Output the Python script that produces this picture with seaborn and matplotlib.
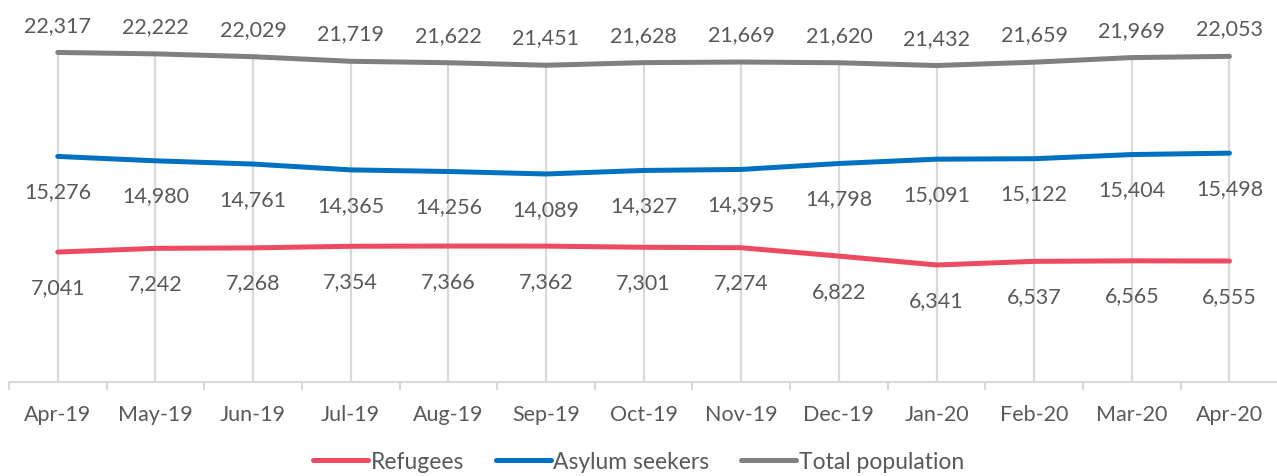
import pandas as pd
import numpy as np
from matplotlib import pyplot as plt
import seaborn as sns

months = ["Apr-19", "May-19", "Jun-19", "Jul-19", "Aug-19", "Sep-19", "Oct-19",
          "Nov-19", "Dec-19", "Jan-20", "Feb-20", "Mar-20", "Apr-20"]
refugees = [7041, 7242, 7268, 7354, 7366, 7362, 7301, 7274, 6822, 6341, 6537, 6565, 6555]
asylum = [15276, 14980, 14761, 14365, 14256, 14089, 14327, 14395, 14798, 15091, 15122, 15404, 15498]
total = [22317, 22222, 22029, 21719, 21622, 21451, 21628, 21669, 21620, 21432, 21659, 21969, 22053]

RED = "#EE4B62"
BLUE = "#0070C0"
GRAY = "#808080"
TXT = "#595959"
GRID = "#D9D9D9"

sns.set_style("white")
plt.rcParams["font.family"] = ["Lato", "DejaVu Sans"]

df = pd.DataFrame({"x": np.arange(len(months)), "refugees": refugees,
                   "asylum": asylum, "total": total})

fig = plt.figure(figsize=(12.77, 4.77), dpi=100)
ax = fig.add_axes([0.007, 0.197, 0.994, 0.774])
ax2 = ax.twinx()

# drop lines from the total down to the axis
ax.vlines(df["x"], 0, df["total"], color=GRID, lw=1.6, zorder=1)

lw = 3.6
sns.lineplot(data=df, x="x", y="total", ax=ax, color=GRAY, lw=lw,
             solid_capstyle="round", zorder=3)
sns.lineplot(data=df, x="x", y="asylum", ax=ax, color=BLUE, lw=lw,
             solid_capstyle="round", zorder=3)
sns.lineplot(data=df, x="x", y="refugees", ax=ax2, color=RED, lw=lw,
             solid_capstyle="round", zorder=3)

ax.set_ylim(0, 25000)
ax2.set_ylim(0, 20000)
ax.set_xlim(-0.5, len(months) - 0.5)

fs = 15.5
for i in range(len(months)):
    ax.annotate(f"{total[i]:,}", (i, total[i]), xytext=(0, 20), textcoords="offset points",
                ha="center", va="center", fontsize=fs, color=TXT)
    ax.annotate(f"{asylum[i]:,}", (i, asylum[i]), xytext=(0, -25), textcoords="offset points",
                ha="center", va="center", fontsize=fs, color=TXT)
    ax2.annotate(f"{refugees[i]:,}", (i, refugees[i]), xytext=(0, -25), textcoords="offset points",
                 ha="center", va="center", fontsize=fs, color=TXT)

for a in (ax, ax2):
    for s in ["top", "right", "left"]:
        a.spines[s].set_visible(False)
    a.set_ylabel("")
    a.set_xlabel("")
    a.set_yticks([])
ax2.spines["bottom"].set_visible(False)

ax.spines["bottom"].set_color(GRID)
ax.spines["bottom"].set_linewidth(1.5)
ax.set_xticks(range(len(months)))
ax.set_xticklabels(months, fontsize=fs, color=TXT)
ax.set_xticks(np.arange(-0.5, len(months)), minor=True)
ax.tick_params(axis="x", which="major", length=0, pad=16)
ax.tick_params(axis="x", which="minor", length=6, width=1.5, color=GRID, bottom=True)

handles = [plt.Line2D([], [], color=c, lw=lw, solid_capstyle="round") for c in (RED, BLUE, GRAY)]
fig.legend(handles, ["Refugees", "Asylum seekers", "Total population"], loc="center",
           bbox_to_anchor=(0.5, 0.03), ncol=3, frameon=False, fontsize=16.5,
           labelcolor=TXT, handlelength=2.4, handletextpad=0.1, columnspacing=1.4)

fig.savefig("out.png", dpi=100)
